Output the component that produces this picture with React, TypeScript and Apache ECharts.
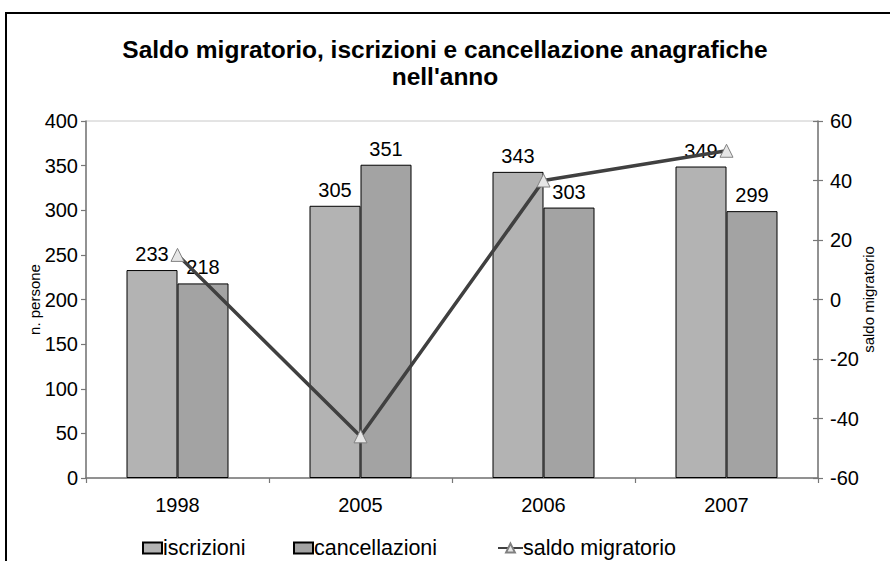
import React, { useEffect, useRef } from "react";
import * as echarts from "echarts";

const categories = ["1998", "2005", "2006", "2007"];
const iscrizioni = [233, 305, 343, 349];
const cancellazioni = [218, 351, 303, 299];
const saldo = [15, -46, 40, 50];

const FONT = "Arial, 'Liberation Sans', sans-serif";

export default function App() {
  const ref = useRef<HTMLDivElement>(null);
  useEffect(() => {
    if (!ref.current) return;
    const chart = echarts.init(ref.current, undefined, { renderer: "svg" });
    const axisLine = { show: true, lineStyle: { color: "#777777", width: 1.5 } };
    const tickStyle = { color: "#777777", width: 1.2 };
    const legendText = { fontFamily: FONT, fontSize: 21.5, color: "#000", lineHeight: 22 };
    const option: any = {
      animation: false,
      backgroundColor: "#ffffff",
      textStyle: { fontFamily: FONT },
      title: {
        text: "Saldo migratorio, iscrizioni e cancellazione anagrafiche\nnell'anno",
        left: "center",
        top: 31,
        textStyle: { fontFamily: FONT, fontSize: 24.5, fontWeight: "bold", color: "#000", lineHeight: 27 },
      },
      graphic: [
        {
          type: "rect",
          shape: { x: 6, y: 13, width: 900, height: 600 },
          style: { fill: "none", stroke: "#000", lineWidth: 2 },
          silent: true,
        },
      ],
      grid: {
        left: 86,
        right: 72,
        top: 121,
        bottom: 83,
        show: true,
        borderColor: "#c8c8c8",
        borderWidth: 1,
        backgroundColor: "#ffffff",
      },
      legend: [
        {
          data: [{ name: "iscrizioni", icon: "rect" }],
          left: 137,
          top: 532,
          itemWidth: 19,
          itemHeight: 11,
          textStyle: { ...legendText, padding: [0, 0, 0, -4] },
        },
        {
          data: [{ name: "cancellazioni", icon: "rect" }],
          left: 288,
          top: 532,
          itemWidth: 19,
          itemHeight: 11,
          textStyle: { ...legendText, padding: [0, 0, 0, -4] },
        },
        {
          data: ["saldo migratorio"],
          left: 492,
          top: 532,
          itemWidth: 25,
          itemHeight: 11,
          textStyle: { ...legendText, padding: [0, 0, 0, -5] },
        },
      ],
      xAxis: {
        type: "category",
        data: categories,
        axisLine,
        axisTick: { show: true, length: 5, lineStyle: tickStyle },
        axisLabel: { fontFamily: FONT, fontSize: 20, color: "#000", margin: 17 },
      },
      yAxis: [
        {
          type: "value",
          min: 0,
          max: 400,
          interval: 50,
          position: "left",
          name: "n. persone",
          nameLocation: "middle",
          nameRotate: 90,
          nameGap: 44,
          nameMoveOverlap: false,
          nameTextStyle: { fontFamily: FONT, fontSize: 15, color: "#000" },
          axisLine,
          axisTick: { show: true, length: 5, lineStyle: tickStyle },
          axisLabel: { fontFamily: FONT, fontSize: 20, color: "#000", margin: 8 },
          splitLine: { show: false },
        },
        {
          type: "value",
          min: -60,
          max: 60,
          interval: 20,
          position: "right",
          name: "saldo migratorio",
          nameLocation: "middle",
          nameRotate: 90,
          nameGap: 43,
          nameMoveOverlap: false,
          nameTextStyle: { fontFamily: FONT, fontSize: 15, color: "#000" },
          axisLine,
          axisTick: { show: true, length: 5, lineStyle: tickStyle },
          axisLabel: { fontFamily: FONT, fontSize: 20, color: "#000", margin: 12 },
          splitLine: { show: false },
        },
        {
          type: "value",
          min: -60,
          max: 60,
          interval: 20,
          position: "right",
          axisLine: { show: false },
          axisTick: { show: true, inside: true, length: 5, lineStyle: tickStyle },
          axisLabel: { show: false },
          splitLine: { show: false },
        },
      ],
      series: [
        {
          name: "iscrizioni",
          type: "bar",
          data: iscrizioni,
          barWidth: 51,
          barGap: "0%",
          itemStyle: { color: "#b3b3b3", borderColor: "#000", borderWidth: 1 },
          label: { show: true, position: "top", distance: 6, fontFamily: FONT, fontSize: 20, color: "#000" },
        },
        {
          name: "cancellazioni",
          type: "bar",
          data: cancellazioni,
          barWidth: 51,
          barGap: "0%",
          itemStyle: { color: "#a3a3a3", borderColor: "#000", borderWidth: 1 },
          label: { show: true, position: "top", distance: 6, fontFamily: FONT, fontSize: 20, color: "#000" },
        },
        {
          name: "saldo migratorio",
          type: "line",
          yAxisIndex: 1,
          data: saldo,
          symbol: "triangle",
          symbolSize: 13,
          lineStyle: { color: "#404040", width: 3.5 },
          itemStyle: { color: "#e6e6e6", borderColor: "#808080", borderWidth: 1 },
          z: 5,
        },
      ],
    };
    chart.setOption(option);
    return () => chart.dispose();
  }, []);
  return (
    <div
      ref={ref}
      style={{ position: "absolute", left: 0, top: 0, width: 890, height: 561 }}
    />
  );
}
